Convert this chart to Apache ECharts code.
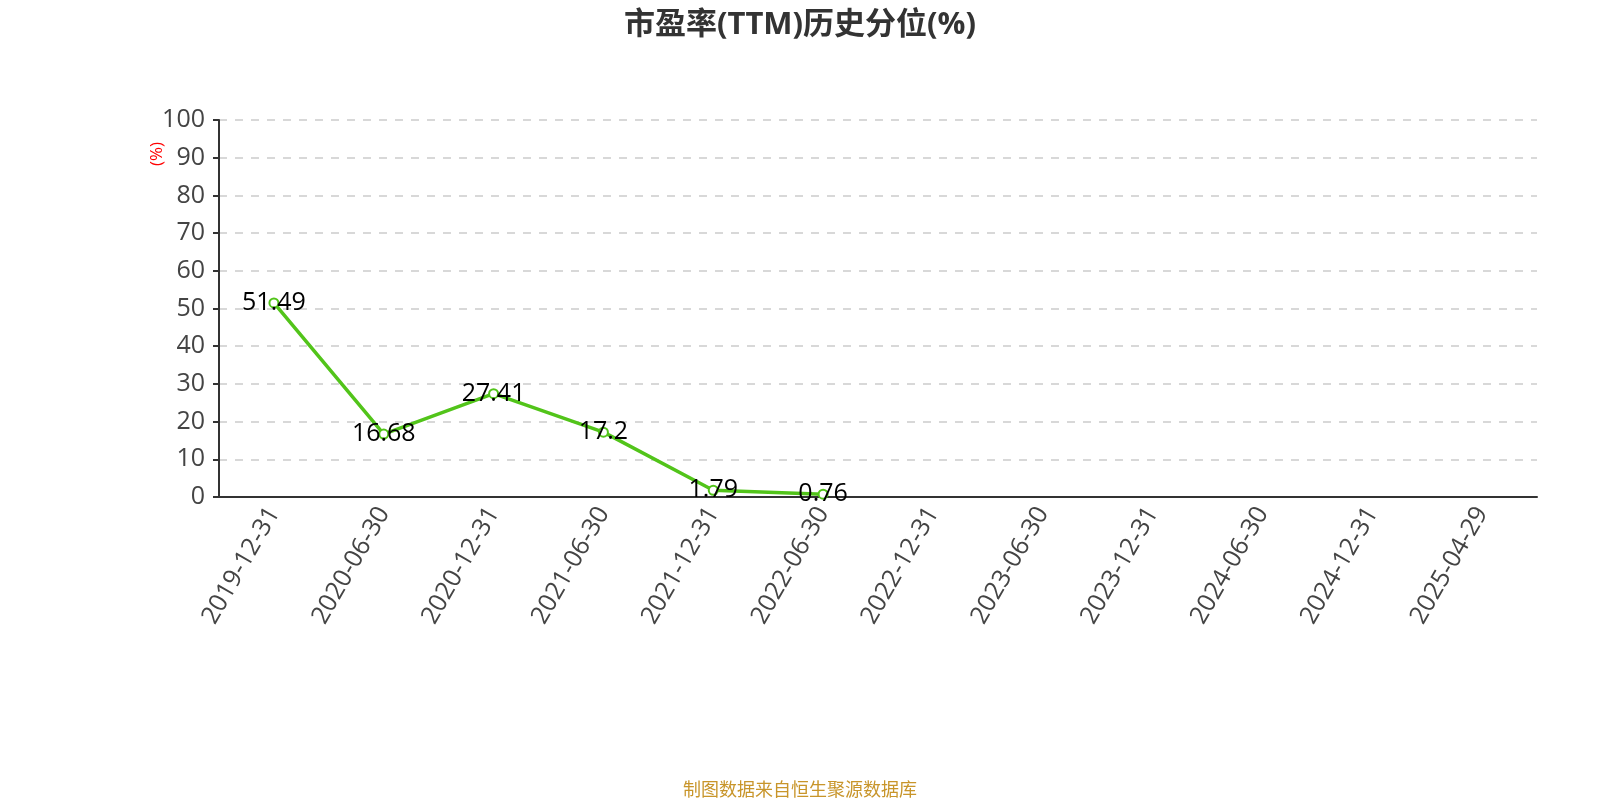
<!DOCTYPE html>
<html>
<head>
<meta charset="utf-8">
<script src="https://cdn.jsdelivr.net/npm/echarts@6/dist/echarts.min.js"></script>
<style>html,body{margin:0;padding:0;background:#fff}#c{width:1600px;height:800px}</style>
</head>
<body>
<div id="c"></div>
<script>
var categories = ['2019-12-31','2020-06-30','2020-12-31','2021-06-30','2021-12-31','2022-06-30','2022-12-31','2023-06-30','2023-12-31','2024-06-30','2024-12-31','2025-04-29'];
var peValues = [51.49, 16.68, 27.41, 17.2, 1.79, 0.76, null, null, null, null, null, null];
var titleText = '市盈率(TTM)历史分位(%)';
var sourceText = '制图数据来自恒生聚源数据库';
var fontFam = '"Open Sans", "Noto Sans CJK SC", sans-serif';

var chart = echarts.init(document.getElementById('c'));
chart.setOption({
  backgroundColor: '#fff',
  animation: false,
  title: {
    text: titleText,
    left: 'center',
    top: 5,
    textStyle: {fontSize: 31, fontWeight: 'bold', color: '#333', fontFamily: fontFam}
  },
  graphic: [
    {type: 'text', left: 'center', top: 782, style: {text: sourceText, fill: '#c8952a', font: '18px ' + fontFam}},
    {type: 'text', x: 149, y: 166, rotation: Math.PI/2, style: {text: '(%)', fill: '#ff0000', font: '17px ' + fontFam}}
  ],
  grid: {left: 219, right: 63, top: 120, bottom: 303},
  xAxis: {
    type: 'category',
    data: categories,
    boundaryGap: true,
    axisLine: {lineStyle: {color: '#333', width: 2}},
    axisTick: {lineStyle: {color: '#333', width: 2}, length: 6},
    axisLabel: {rotate: 60, fontSize: 25, color: '#444', fontFamily: fontFam, margin: 12, interval: 0}
  },
  yAxis: {
    type: 'value',
    min: 0, max: 100, interval: 10,
    axisLine: {show: true, lineStyle: {color: '#333', width: 2}},
    axisTick: {show: true, lineStyle: {color: '#333', width: 2}, length: 6},
    axisLabel: {fontSize: 25, color: '#444', fontFamily: fontFam, margin: 14},
    splitLine: {lineStyle: {color: '#ccc', type: [8, 8], width: 1.5}}
  },
  series: [{
    type: 'line',
    data: peValues,
    connectNulls: false,
    symbol: 'emptyCircle',
    symbolSize: 9,
    lineStyle: {color: '#52c41a', width: 3.5},
    itemStyle: {color: '#52c41a', borderWidth: 2},
    label: {show: true, position: 'inside', fontSize: 25, color: '#000', fontFamily: fontFam}
  }]
});
</script>
</body>
</html>
